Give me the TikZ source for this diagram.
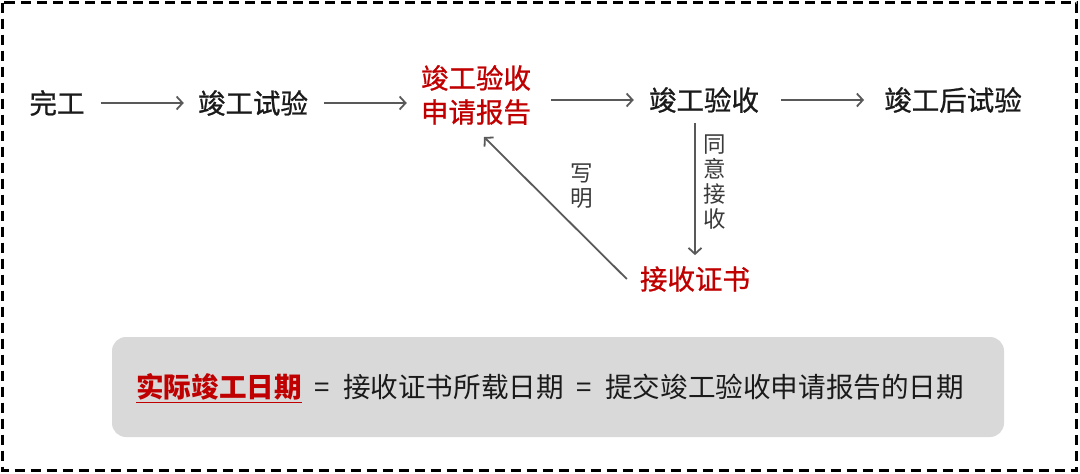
\documentclass[tikz,border=0pt]{standalone}
\usepackage{fontspec}
\setmainfont{Noto Sans CJK SC}
\newfontfamily\medfont{Noto Sans CJK SC}[FakeBold=0.9]
\usetikzlibrary{arrows.meta}
\definecolor{myred}{HTML}{C00000}
\definecolor{arrgray}{HTML}{595959}
\definecolor{txtgray}{HTML}{3A3A3A}
\definecolor{boxgray}{HTML}{D9D9D9}
\definecolor{txtblack}{HTML}{1A1A1A}
\begin{document}
\begin{tikzpicture}[x=1pt,y=-1pt,
  lbl/.style={inner sep=0pt, text=txtblack, font=\medfont\fontsize{27.5}{34}\selectfont},
  redlbl/.style={lbl, text=myred, align=center},
  side/.style={inner sep=0pt, text=txtgray, align=center, font=\fontsize{22.5}{25}\selectfont},
  arr/.style={draw=arrgray, line width=1.8pt, -{Straight Barb[length=6pt,width=13pt]}},
  frame/.style={draw=black, line width=2.5pt, dash pattern=on 10pt off 6pt},
  note/.style={fill=boxgray, rounded corners=14pt},
  eqtext/.style={inner sep=0pt, text=txtblack, font=\fontsize{27.6}{34}\selectfont}]
\useasboundingbox (0,0) rectangle (1080,474);
\draw[frame] (2.5,2.5) rectangle (1076.5,470.5);

\node[lbl] (wg) at (57,103) {完工};
\node[lbl] (jgsy) at (253,103) {竣工试验};
\node[redlbl] (sq) at (476,95) {竣工验收\\申请报告};
\node[lbl] (ys) at (704,100) {竣工验收};
\node[lbl] (hs) at (953,100) {竣工后试验};
\node[redlbl] (zs) at (695,279) {接收证书};

\draw[arr, shorten <=16pt, shorten >=14pt] (wg.east) -- (jgsy.west);
\draw[arr, shorten <=16pt, shorten >=14pt] (jgsy.east) -- (jgsy.east -| sq.west);
\draw[arr, shorten <=20pt, shorten >=15pt] (sq.east |- ys.west) -- (ys.west);
\draw[arr, shorten <=22pt, shorten >=20pt] (ys.east) -- (hs.west);
\draw[arr, shorten <=10pt, shorten >=11pt] (ys.south -| zs.north) -- (zs.north);
\draw[arr] ([xshift=-13pt]zs.west) -- ([shift={(8,42)}]sq.center);

\node[side] (ty) at (715,182) {同\\意\\接\\收};
\node[side] (xm) at (582,186) {写\\明};

\fill[note] (112,337) rectangle (1004,437);
\node[eqtext, anchor=west] (eq) at (136,388) {\textcolor{myred}{\bfseries\underline{实际竣工日期}}\hspace{13pt}=\hspace{13pt}接收证书所载日期\hspace{13pt}=\hspace{13pt}提交竣工验收申请报告的日期};
\end{tikzpicture}
\end{document}
